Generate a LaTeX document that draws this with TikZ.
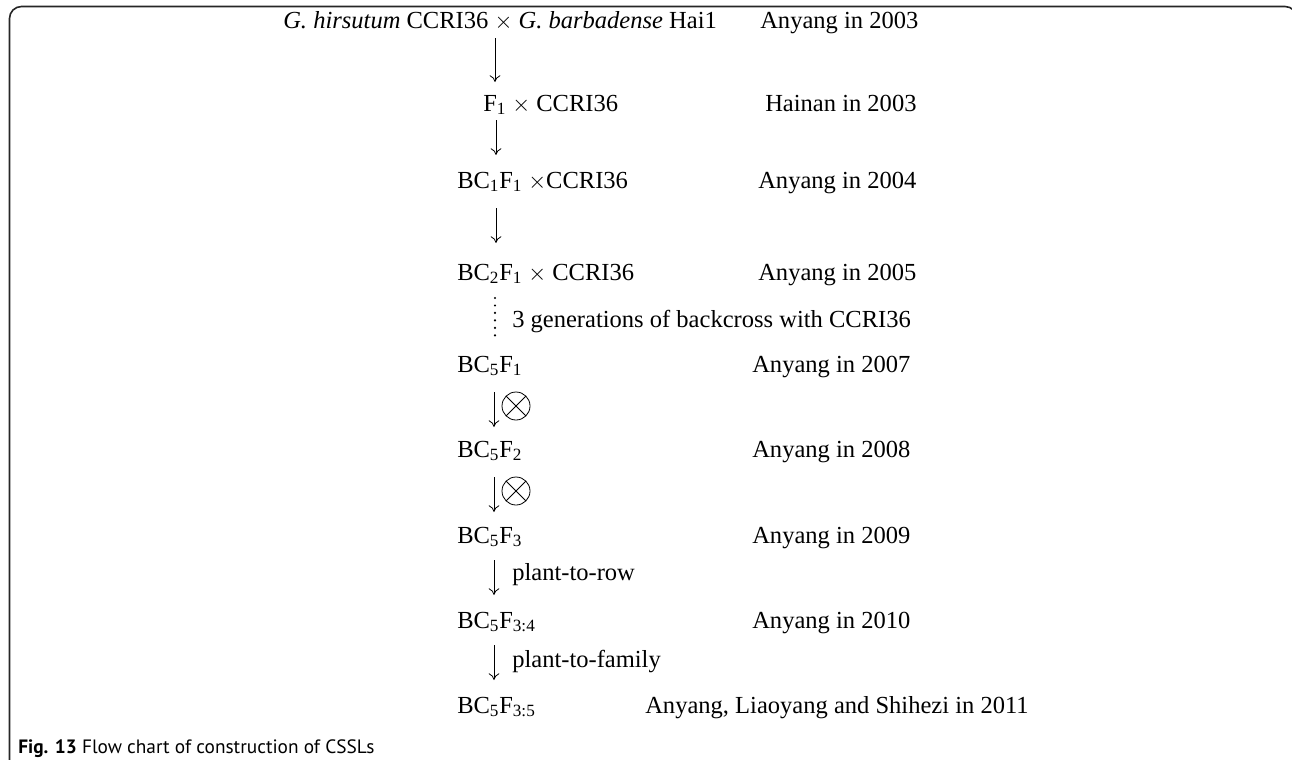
\documentclass[tikz,border=0pt]{standalone}
\usepackage{fontspec}
\setmainfont{Liberation Serif}
\newfontfamily\capfont{PT Sans}
\usetikzlibrary{arrows.meta}
\newcommand{\mainsz}{\fontsize{18.4}{22}\selectfont}
\newcommand{\sub}[1]{\textsubscript{#1}}
\newcommand{\tms}{$\times$}
\tikzset{
  txt/.style={anchor=base west, inner sep=0pt, font=\mainsz},
  captxt/.style={anchor=base west, inner sep=0pt, font=\capfont\fontsize{14.5}{16}\selectfont},
  arr/.style={-{To[length=5pt,width=8pt]}, line width=0.6pt},
  dotline/.style={line width=1.8pt, line cap=round, dash pattern=on 0pt off 5.6pt},
  otimes/.style={circle, draw, line width=0.6pt, minimum size=21pt, inner sep=0pt,
    path picture={\draw[line width=0.6pt] (path picture bounding box.north west) ++(3.1pt,-3.1pt) -- ++(14.8pt,-14.8pt);
                  \draw[line width=0.6pt] (path picture bounding box.north east) ++(-3.1pt,-3.1pt) -- ++(-14.8pt,-14.8pt);}},
  frame/.style={draw=black!85, line width=1.2pt, rounded corners=9pt}
}
\begin{document}
\begin{tikzpicture}[x=0.75pt,y=-0.75pt]
\useasboundingbox (0,0) rectangle (1292,760);
\clip (0,0) rectangle (1292,760);
\draw[frame] (9.5,790) -- (9.5,6.5) -- (1297,6.5) -- (1297,790);

% left column
\node[txt] (p0) at (283,28) {\textit{G. hirsutum} CCRI36 \tms{} \textit{G. barbadense} Hai1};
\node[txt] (p1) at (483,111) {F\sub{1} \tms{} CCRI36};
\node[txt] (p2) at (457,188) {BC\sub{1}F\sub{1} \tms CCRI36};
\node[txt] (p3) at (457,280) {BC\sub{2}F\sub{1} \tms{} CCRI36};
\node[txt] (p4) at (457,372) {BC\sub{5}F\sub{1}};
\node[txt] (p5) at (457,457) {BC\sub{5}F\sub{2}};
\node[txt] (p6) at (457,543) {BC\sub{5}F\sub{3}};
\node[txt] (p7) at (457,628) {BC\sub{5}F\sub{3:4}};
\node[txt] (p8) at (457,713) {BC\sub{5}F\sub{3:5}};

% right column
\node[txt] (l0) at (760,28) {Anyang in 2003};
\node[txt] (l1) at (765,111) {Hainan in 2003};
\node[txt] (l2) at (758,188) {Anyang in 2004};
\node[txt] (l3) at (758,280) {Anyang in 2005};
\node[txt] (l4) at (752,372) {Anyang in 2007};
\node[txt] (l5) at (752,457) {Anyang in 2008};
\node[txt] (l6) at (752,543) {Anyang in 2009};
\node[txt] (l7) at (752,628) {Anyang in 2010};
\node[txt] (l8) at (645,713) {Anyang, Liaoyang and Shihezi in 2011};

% arrow end points
\coordinate (a0s) at (495,38);  \coordinate (a0e) at (495,82);
\coordinate (a1s) at (496,120); \coordinate (a1e) at (496,155);
\coordinate (a2s) at (496,208); \coordinate (a2e) at (496,243);
\coordinate (dts) at (495,298); \coordinate (dte) at (495,337);
\coordinate (a4s) at (494,392); \coordinate (a4e) at (494,427);
\coordinate (a5s) at (494,477); \coordinate (a5e) at (494,512);
\coordinate (a6s) at (494,560); \coordinate (a6e) at (494,595);
\coordinate (a7s) at (494,645); \coordinate (a7e) at (494,680);

\draw[arr] (a0s) -- (a0e);
\draw[arr] (a1s) -- (a1e);
\draw[arr] (a2s) -- (a2e);
\draw[dotline] (dts) -- (dte);
\draw[arr] (a4s) -- (a4e);
\draw[arr] (a5s) -- (a5e);
\draw[arr] (a6s) -- (a6e);
\draw[arr] (a7s) -- (a7e);

\node[txt] (g) at (512,327) {3 generations of backcross with CCRI36};
\node[otimes] (x1) at (516,406) {};
\node[otimes] (x2) at (516,491) {};
\node[txt] (r1) at (512,580) {plant-to-row};
\node[txt] (r2) at (512,667) {plant-to-family};

\node[captxt] (cap) at (18,753) {\textbf{Fig. 13} Flow chart of construction of CSSLs};
\end{tikzpicture}
\end{document}
